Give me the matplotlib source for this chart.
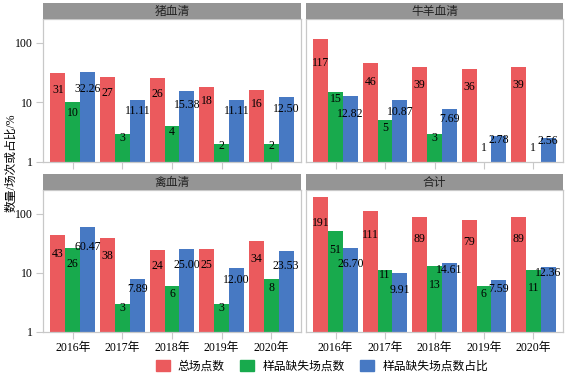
import matplotlib
matplotlib.use('Agg')
import matplotlib.pyplot as plt
import matplotlib.patches as mpatches
import numpy as np

plt.rcParams['font.family'] = ['Liberation Serif', 'Noto Sans CJK SC']
plt.rcParams['font.size'] = 8

years = ['2016年', '2017年', '2018年', '2019年', '2020年']
panels = ['猪血清', '牛羊血清', '禽血清', '合计']
series_names = ['总场点数', '样品缺失场点数', '样品缺失场点数占比']

total = {
    '猪血清': [31, 27, 26, 18, 16],
    '牛羊血清': [117, 46, 39, 36, 39],
    '禽血清': [43, 38, 24, 25, 34],
    '合计': [191, 111, 89, 79, 89],
}
missing = {
    '猪血清': [10, 3, 4, 2, 2],
    '牛羊血清': [15, 5, 3, 1, 1],
    '禽血清': [26, 3, 6, 3, 8],
    '合计': [51, 11, 13, 6, 11],
}
pct = {
    '猪血清': [32.26, 11.11, 15.38, 11.11, 12.50],
    '牛羊血清': [12.82, 10.87, 7.69, 2.78, 2.56],
    '禽血清': [60.47, 7.89, 25.00, 12.00, 23.53],
    '合计': [26.70, 9.91, 14.61, 7.59, 12.36],
}

colors = ['#EB5A5D', '#18AA4D', '#4779C3']
frame_col = '#c8c8c8'
strip_col = '#959595'

W, H = 572, 380
fig = plt.figure(figsize=(W / 100, H / 100), dpi=100)

# panel boxes in pixels: (left, top, width, height) of the plotting area
boxes = [(43, 19, 258, 143), (306, 19, 257, 143),
         (43, 190, 258, 142), (306, 190, 257, 142)]
strip_h = 16

x = np.arange(len(years))
bw = 0.3


def label_pos(v):
    # label sits a bit below the bar top (in log space)
    return np.log10(max(1.05 * v ** 0.794, 1.75))


for i, name in enumerate(panels):
    l, t, w, h = boxes[i]
    ax = fig.add_axes([l / W, 1 - (t + h) / H, w / W, h / H])
    ax.set_yscale('log')
    vals = [total[name], missing[name], pct[name]]
    labels = [[str(v) for v in total[name]],
              [str(v) for v in missing[name]],
              [f'{v:.2f}' for v in pct[name]]]
    for k, v in enumerate(vals):
        ax.bar(x + (k - 1) * bw, v, width=bw, color=colors[k],
               edgecolor='none', zorder=2)

    for j in range(len(years)):
        ys = [label_pos(vals[k][j]) for k in range(3)]
        # crude repel between green and blue labels when they collide
        if len(labels[1][j]) > 1 and abs(ys[1] - ys[2]) < 0.25:
            mid = (ys[1] + ys[2]) / 2
            if ys[1] >= ys[2]:
                ys[1], ys[2] = mid + 0.125, mid - 0.125
            else:
                ys[1], ys[2] = mid - 0.125, mid + 0.125
        for k in range(3):
            ax.text(x[j] + (k - 1) * bw, 10 ** ys[k], labels[k][j],
                    ha='center', va='center', fontsize=8.5, color='black',
                    zorder=3)

    ax.set_ylim(1, 250)
    ax.set_xlim(-0.6, 4.6)
    ax.set_yticks([1, 10, 100])
    ax.set_yticklabels(['1', '10', '100'])
    ax.yaxis.set_minor_locator(matplotlib.ticker.NullLocator())
    ax.set_xticks(x)
    if i >= 2:
        ax.set_xticklabels(years, fontsize=8.5)
    else:
        ax.set_xticklabels([])
    ax.tick_params(axis='both', color=frame_col, length=5, width=0.8,
                   labelsize=8.5, pad=2)
    if i % 2 == 1:
        ax.set_yticklabels([])
        ax.tick_params(axis='y', length=0)
    for s in ax.spines.values():
        s.set_color(frame_col)
        s.set_linewidth(0.9)

    # facet strip
    sax = fig.add_axes([l / W, 1 - t / H, w / W, strip_h / H])
    sax.set_facecolor(strip_col)
    sax.set_xticks([])
    sax.set_yticks([])
    for s in sax.spines.values():
        s.set_visible(False)
    sax.text(0.5, 0.45, name, transform=sax.transAxes, ha='center',
             va='center', fontsize=8.5, color='#222222')

fig.text(11 / W, 1 - 163 / H, '数量/场次或占比/%', rotation=90, ha='center',
         va='center', fontsize=8.5)

handles = [mpatches.Patch(color=c, label=n) for c, n in zip(colors, series_names)]
fig.legend(handles=handles, loc='center', bbox_to_anchor=(322 / W, 1 - 366 / H),
           ncol=3, frameon=False, fontsize=8.5, handlelength=1.2,
           handleheight=1.1, columnspacing=1.3, handletextpad=0.7)

fig.savefig('out.png', dpi=100)
